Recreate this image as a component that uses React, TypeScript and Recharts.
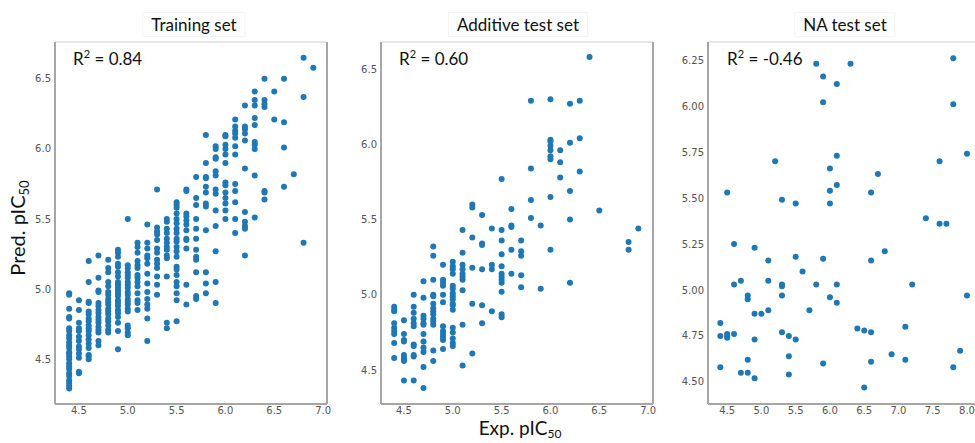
import React from 'react';
import { ScatterChart, Scatter, XAxis, YAxis, ReferenceLine } from 'recharts';

// Training set: experimental pIC50 columns and the predicted values in each
const trainExp = [4.4, 4.5, 4.6, 4.7, 4.8, 4.9, 5.0, 5.1, 5.2, 5.3, 5.4, 5.5, 5.6, 5.7, 5.8, 5.9, 6.0, 6.1, 6.2, 6.3, 6.4, 6.5, 6.6, 6.7, 6.8, 6.9];
const trainPred: number[][] = [
  [4.97, 4.96, 4.86, 4.8, 4.79, 4.72, 4.7, 4.67, 4.65, 4.62, 4.6, 4.58, 4.55, 4.54, 4.52, 4.5, 4.47, 4.45, 4.43, 4.4, 4.38, 4.35, 4.33, 4.31, 4.29],
  [4.92, 4.85, 4.76, 4.72, 4.7, 4.66, 4.63, 4.59, 4.57, 4.54, 4.51, 4.41, 4.4],
  [5.2, 5.05, 4.91, 4.9, 4.84, 4.82, 4.79, 4.77, 4.74, 4.72, 4.7, 4.67, 4.64, 4.61, 4.58, 4.53, 4.52, 4.5],
  [5.24, 5.08, 4.99, 4.98, 4.9, 4.88, 4.85, 4.83, 4.8, 4.78, 4.76, 4.73, 4.71, 4.69, 4.63, 4.6],
  [5.21, 5.15, 5.12, 5.05, 5.02, 4.98, 4.96, 4.93, 4.91, 4.89, 4.86, 4.84, 4.82, 4.79, 4.77, 4.74, 4.71, 4.69],
  [5.28, 5.26, 5.23, 5.18, 5.16, 5.12, 5.09, 5.05, 5.03, 5.01, 4.99, 4.97, 4.95, 4.92, 4.9, 4.88, 4.85, 4.83, 4.8, 4.76, 4.7, 4.57],
  [5.5, 5.17, 5.15, 5.12, 5.1, 5.08, 5.05, 5.03, 5.01, 4.98, 4.96, 4.93, 4.91, 4.89, 4.86, 4.84, 4.74, 4.72, 4.69, 4.67],
  [5.33, 5.3, 5.26, 5.2, 5.17, 5.15, 5.1, 5.08, 5.05, 5.02, 4.97, 4.92, 4.9, 4.85],
  [5.46, 5.33, 5.29, 5.24, 5.22, 5.18, 5.11, 5.04, 4.98, 4.93, 4.89, 4.86, 4.79, 4.63],
  [5.71, 5.44, 5.41, 5.39, 5.35, 5.29, 5.26, 5.21, 5.18, 5.15, 5.09, 5.03, 4.96],
  [5.5, 5.48, 5.43, 5.4, 5.36, 5.33, 5.3, 5.28, 5.24, 5.22, 5.09, 4.76, 4.72],
  [5.62, 5.6, 5.58, 5.54, 5.5, 5.47, 5.43, 5.4, 5.36, 5.34, 5.3, 5.27, 5.23, 5.16, 5.14, 5.1, 5.05, 5.02, 4.97, 4.92, 4.77],
  [5.71, 5.7, 5.54, 5.52, 5.49, 5.46, 5.42, 5.36, 5.35, 5.29, 5.03, 4.89],
  [5.8, 5.65, 5.6, 5.5, 5.43, 5.36, 5.28, 5.23, 5.21, 5.12, 4.95, 4.93],
  [6.1, 5.9, 5.8, 5.79, 5.73, 5.69, 5.61, 5.59, 5.42, 5.12, 5.04, 4.97],
  [6.02, 6.0, 5.94, 5.93, 5.84, 5.81, 5.71, 5.68, 5.56, 5.45, 5.27, 5.05, 4.9],
  [6.1, 6.09, 6.03, 6.0, 5.96, 5.9, 5.76, 5.74, 5.69, 5.65, 5.61, 5.56, 5.5],
  [6.21, 6.16, 6.13, 6.11, 6.08, 6.02, 5.96, 5.75, 5.7, 5.62, 5.5, 5.4],
  [6.31, 6.16, 6.14, 6.11, 6.06, 5.86, 5.55, 5.48, 5.45, 5.43, 5.24],
  [6.41, 6.35, 6.31, 6.22, 6.17, 6.05, 6.03, 6.0, 5.81, 5.51],
  [6.5, 6.35, 6.32, 6.3, 5.7, 5.69, 5.64],
  [6.41, 6.21],
  [6.5, 6.19, 6.01, 5.73],
  [5.82],
  [6.65, 6.37, 5.33],
  [6.58],
];

// Additive test set
const addExp = [4.4, 4.5, 4.6, 4.7, 4.8, 4.9, 5.0, 5.1, 5.2, 5.3, 5.4, 5.5, 5.6, 5.7, 5.8, 5.9, 6.0, 6.1, 6.2, 6.3, 6.4, 6.5, 6.8, 6.9];
const addPred: number[][] = [
  [4.92, 4.9, 4.89, 4.81, 4.78, 4.76, 4.74, 4.68, 4.58],
  [4.83, 4.74, 4.7, 4.69, 4.6, 4.58, 4.57, 4.56, 4.43],
  [5.0, 4.92, 4.88, 4.84, 4.81, 4.79, 4.67, 4.66, 4.6, 4.59, 4.43],
  [5.09, 4.98, 4.86, 4.84, 4.81, 4.8, 4.74, 4.69, 4.65, 4.62, 4.52, 4.38],
  [5.32, 5.26, 5.1, 5.0, 4.99, 4.94, 4.91, 4.89, 4.87, 4.84, 4.82, 4.8, 4.63, 4.56],
  [5.2, 5.1, 5.08, 5.06, 5.0, 4.95, 4.79, 4.76, 4.74, 4.72, 4.7, 4.64],
  [5.22, 5.19, 5.17, 5.14, 5.06, 5.04, 5.01, 4.99, 4.97, 4.94, 4.93, 4.9, 4.78, 4.75, 4.71, 4.68, 4.66],
  [5.43, 5.28, 5.2, 5.17, 5.14, 5.12, 5.1, 5.03, 4.8, 4.53],
  [5.6, 5.58, 5.38, 5.18, 4.94, 4.61],
  [5.53, 5.34, 5.33, 5.17, 4.93, 4.81],
  [5.44, 5.2, 5.17, 4.89],
  [5.77, 5.43, 5.36, 5.27, 5.19, 5.14, 5.12, 5.1, 5.08, 5.02, 4.87, 4.85],
  [5.57, 5.46, 5.45, 5.3, 5.14],
  [5.36, 5.29, 5.26, 5.13, 5.05],
  [6.29, 5.84, 5.63, 5.51],
  [5.46, 5.04],
  [6.3, 6.03, 6.02, 5.99, 5.96, 5.92, 5.9, 5.65, 5.3],
  [5.96, 5.88, 5.78],
  [6.27, 6.01, 5.69, 5.5, 5.08],
  [6.29, 6.04, 5.82],
  [6.58],
  [5.56],
  [5.35, 5.3],
  [5.44],
];

// NA test set
const naExp = [4.4, 4.4, 4.4, 4.5, 4.5, 4.5, 4.5, 4.6, 4.6, 4.6, 4.7, 4.7, 4.8, 4.8, 4.8, 4.8, 4.9, 4.9, 4.9, 4.9, 5.0, 5.1, 5.1, 5.1, 5.2, 5.3, 5.3, 5.3, 5.3, 5.3, 5.4, 5.4, 5.4, 5.5, 5.5, 5.5, 5.6, 5.7, 5.8, 5.8, 5.9, 5.9, 5.9, 5.9, 6.0, 6.0, 6.0, 6.0, 6.1, 6.1, 6.1, 6.1, 6.1, 6.3, 6.4, 6.5, 6.5, 6.6, 6.6, 6.6, 6.6, 6.7, 6.8, 6.9, 7.1, 7.1, 7.2, 7.4, 7.6, 7.6, 7.7, 7.8, 7.8, 7.8, 7.9, 8.0, 8.0];
const naPred = [4.82, 4.75, 4.58, 5.53, 4.76, 4.75, 4.74, 5.25, 5.03, 4.76, 5.05, 4.55, 4.97, 4.95, 4.62, 4.55, 5.23, 4.87, 4.73, 4.52, 4.87, 5.16, 5.05, 4.89, 5.7, 5.49, 5.03, 5.02, 4.97, 4.77, 4.75, 4.64, 4.54, 5.47, 5.18, 4.73, 5.1, 4.89, 6.23, 5.03, 6.16, 6.02, 5.17, 4.6, 5.66, 5.54, 5.47, 4.96, 6.12, 5.73, 5.57, 5.03, 4.93, 6.23, 4.79, 4.78, 4.47, 5.53, 5.16, 4.77, 4.61, 5.63, 5.21, 4.65, 4.8, 4.62, 5.03, 5.39, 5.7, 5.36, 5.36, 6.26, 6.01, 4.58, 4.67, 5.74, 4.97];

const halfTicks = [4.5, 5.0, 5.5, 6.0, 6.5, 7.0];
const naXTicks = [4.5, 5.0, 5.5, 6.0, 6.5, 7.0, 7.5, 8.0];
const naYTicks = [4.5, 4.75, 5.0, 5.25, 5.5, 5.75, 6.0, 6.25];

const trainData = trainExp.flatMap((x, i) => trainPred[i].map((y) => ({ x, y })));
const addData = addExp.flatMap((x, i) => addPred[i].map((y) => ({ x, y })));
const naData = naExp.map((x, i) => ({ x, y: naPred[i] }));

const BLUE = '#1f77b4';
const FRAME = '#a6a6a6';
const tickStyle = { fill: '#555', fontSize: 10, fontFamily: 'DejaVu Sans' };
const dot = (p: any) => <circle cx={p.cx} cy={p.cy} r={3} fill={BLUE} />;

function Panel({ data, width, margin, yWidth, xDomain, yDomain, xTicks, yTicks, digits, rightBorder = true }: any) {
  return (
    <ScatterChart width={width} height={443} margin={margin}>
      <XAxis
        type="number"
        dataKey="x"
        domain={xDomain}
        ticks={xTicks}
        allowDataOverflow
        height={30}
        tickSize={0}
        tickMargin={3}
        tickLine={false}
        axisLine={{ stroke: FRAME, strokeWidth: 2 }}
        tick={tickStyle}
        tickFormatter={(v: number) => v.toFixed(1)}
      />
      <YAxis
        type="number"
        dataKey="y"
        domain={yDomain}
        ticks={yTicks}
        allowDataOverflow
        width={yWidth}
        tickSize={0}
        tickMargin={4}
        tickLine={false}
        axisLine={{ stroke: FRAME, strokeWidth: 2 }}
        tick={tickStyle}
        tickFormatter={(v: number) => v.toFixed(digits)}
      />
      <ReferenceLine y={yDomain[1]} stroke="#dedede" strokeWidth={1.5} />
      {rightBorder && <ReferenceLine x={xDomain[1]} stroke={FRAME} strokeWidth={2} />}
      <Scatter data={data} shape={dot} isAnimationActive={false} />
    </ScatterChart>
  );
}

const boxText: React.CSSProperties = {
  position: 'absolute',
  fontFamily: 'Lato, sans-serif',
  color: '#111',
  whiteSpace: 'nowrap',
  lineHeight: 1,
};

function Title({ cx, label }: { cx: number; label: string }) {
  return (
    <div style={{ ...boxText, left: cx, top: 12, transform: 'translateX(-50%)', fontSize: 17, padding: '3px 8px', border: '1px solid #f5f5f5' }}>
      {label}
    </div>
  );
}

function R2({ left, value }: { left: number; value: string }) {
  return (
    <div style={{ ...boxText, left, top: 48, fontSize: 17 }}>
      R<sup style={{ fontSize: 11, verticalAlign: 7 }}>2</sup> = {value}
    </div>
  );
}

export default function App() {
  return (
    <div style={{ position: 'absolute', left: 0, top: 0, width: 975, height: 443, overflow: 'hidden', background: '#fff' }}>
      <div style={{ position: 'absolute', left: 0, top: 0 }}>
        <Panel data={trainData} width={335} margin={{ top: 42, right: 8, bottom: 9, left: 10 }} yWidth={45}
          xDomain={[4.255, 7.04]} yDomain={[4.18, 6.763]} xTicks={halfTicks} yTicks={[4.5, 5.0, 5.5, 6.0, 6.5]} digits={1} />
      </div>
      <div style={{ position: 'absolute', left: 335, top: 0 }}>
        <Panel data={addData} width={325} margin={{ top: 42, right: 7, bottom: 9, left: 6 }} yWidth={40}
          xDomain={[4.265, 7.05]} yDomain={[4.274, 6.68]} xTicks={halfTicks} yTicks={[4.5, 5.0, 5.5, 6.0, 6.5]} digits={1} />
      </div>
      <div style={{ position: 'absolute', left: 660, top: 0 }}>
        <Panel data={naData} width={315} margin={{ top: 42, right: 0, bottom: 9, left: 4 }} yWidth={44}
          xDomain={[4.22, 8.117]} yDomain={[4.38, 6.348]} xTicks={naXTicks} yTicks={naYTicks} digits={2} rightBorder={false} />
      </div>

      <Title cx={194} label="Training set" />
      <Title cx={518} label="Additive test set" />
      <Title cx={845} label="NA test set" />

      <R2 left={73} value="0.84" />
      <R2 left={399} value="0.60" />
      <R2 left={727} value="-0.46" />

      <div style={{ ...boxText, left: 19, top: 228, fontSize: 20, transform: 'translate(-50%, -50%) rotate(-90deg)' }}>
        Pred. pIC<sub style={{ fontSize: 13, verticalAlign: -4 }}>50</sub>
      </div>
      <div style={{ ...boxText, left: 520, top: 418, fontSize: 19, transform: 'translateX(-50%)' }}>
        Exp. pIC<sub style={{ fontSize: 12, verticalAlign: -3 }}>50</sub>
      </div>
    </div>
  );
}
